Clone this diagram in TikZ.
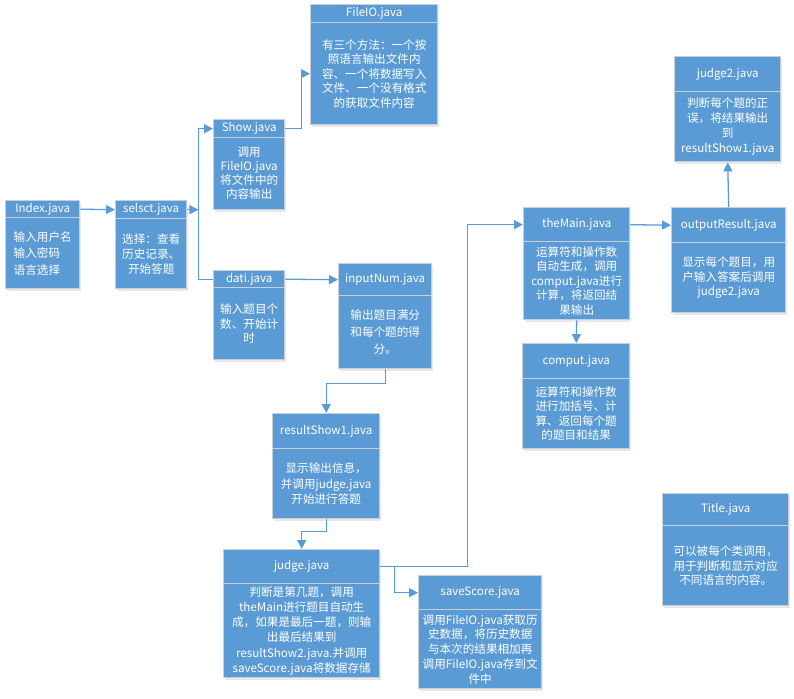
\documentclass[tikz,border=0pt]{standalone}
\usepackage{fontspec}
\setmainfont{Noto Sans CJK SC}
\usetikzlibrary{arrows.meta,shadows}

\definecolor{boxblue}{HTML}{5B9BD5}
\definecolor{boxedge}{HTML}{C9CFD8}
\definecolor{wireblue}{HTML}{5B9BD5}

\tikzset{
  classpart/.style={draw=boxedge, line width=1.4pt, fill=boxblue, text=white,
    anchor=north west, inner sep=0pt,
    drop shadow={opacity=0.18, shadow xshift=1.5pt, shadow yshift=-2pt}},
  headpart/.style={classpart, font=\fontsize{11.5}{14}\selectfont},
  bodypart/.style={classpart, align=center, font=\fontsize{11.6}{15}\selectfont},
  wire/.style={draw=wireblue, line width=1.3pt},
  arrowwire/.style={wire, -{Triangle[length=9pt,width=9pt]}},
}

% #1 name, #2 body options, #3 left, #4 top, #5 right, #6 divider, #7 bottom, #8 title, #9 body text
\newcommand{\classbox}[9]{%
  \node[headpart, minimum width={(#5-#3)*1pt}, minimum height={(#6-#4)*1pt}]
    (#1) at (#3,#4) {#8};
  \node[bodypart, #2, minimum width={(#5-#3)*1pt}, minimum height={(#7-#6)*1pt}]
    (#1b) at (#3,#6) {#9};
}

\begin{document}
\begin{tikzpicture}[x=1pt,y=-1pt]
\useasboundingbox[fill=white] (0,0) rectangle (794,698);

\classbox{idx}{align=left, font=\fontsize{11.6}{16.5}\selectfont}{5}{200}{79}{217}{288}{Index.java}{输入用户名\\输入密码\\语言选择}
\classbox{sel}{}{115}{200}{186}{218}{288}{selsct.java}{选择：查看\\历史记录、\\开始答题}
\classbox{show}{font=\fontsize{11.6}{14}\selectfont}{213}{119}{284}{137}{209}{Show.java}{调用\\FileIO.java\\将文件中的\\内容输出}
\classbox{fio}{font=\fontsize{11.6}{14.5}\selectfont}{310}{4}{437}{22}{124}{FileIO.java}{有三个方法：一个按\\照语言输出文件内\\容、一个将数据写入\\文件、一个没有格式\\的获取文件内容}
\classbox{dati}{font=\fontsize{11.6}{14.5}\selectfont}{213}{270}{284}{287}{359}{dati.java}{输入题目个\\数、开始计\\时}
\classbox{inp}{font=\fontsize{11.6}{17}\selectfont}{338}{263}{431}{295}{368}{inputNum.java}{输出题目满分\\和每个题的得\\分。}
\classbox{rsa}{font=\fontsize{11.6}{15.5}\selectfont}{272}{413}{379}{448}{518}{resultShow1.java}{显示输出信息，\\并调用judge.java\\开始进行答题}
\classbox{jdg}{font=\fontsize{11.6}{15.2}\selectfont}{223}{549}{379}{583}{677}{judge.java}{判断是第几题，调用\\theMain进行题目自动生\\成，如果是最后一题，则输\\出最后结果到\\resultShow2.java.并调用\\saveScore.java将数据存储}
\classbox{ss}{font=\fontsize{11.6}{14.8}\selectfont}{418}{575}{541}{609}{688}{saveScore.java}{调用FileIO.java获取历\\史数据，将历史数据\\与本次的结果相加再\\调用FileIO.java存到文\\件中}
\classbox{tm}{font=\fontsize{11.6}{14.5}\selectfont}{523}{207}{629}{241}{319}{theMain.java}{运算符和操作数\\自动生成，调用\\comput.java进行\\计算，将返回结\\果输出}
\classbox{cmp}{font=\fontsize{11.6}{14.5}\selectfont}{522}{343}{629}{378}{448}{comput.java}{运算符和操作数\\进行加括号、计\\算、返回每个题\\的题目和结果}
\classbox{outr}{font=\fontsize{11.6}{14.5}\selectfont}{671}{207}{785}{242}{312}{outputResult.java}{显示每个题目，用\\户输入答案后调用\\judge2.java}
\classbox{jtwo}{}{674}{56}{780}{91}{161}{judge2.java}{判断每个题的正\\误，将结果输出\\到\\resultShow1.java}
\classbox{ttl}{font=\fontsize{11.6}{14.5}\selectfont}{662}{493}{788}{525}{605}{Title.java}{可以被每个类调用，\\用于判断和显示对应\\不同语言的内容。}

% connectors
\draw[arrowwire] (idx.east) -- (sel.west);
\draw[arrowwire] (sel.east) -- ++(11,0) coordinate (bus);
\draw[arrowwire] (bus |- show.west) -- (show.west);
\draw[wire] (bus |- show.west) -- (bus |- dati.west) -- (dati.west);
\draw[arrowwire] (show.east) -- ++(16,0) |- (fiob.west);
\draw[arrowwire] (dati.east) -- (inp.west);
\draw[arrowwire] (inpb.south) -- ++(0,14) -| (rsa.north);
\draw[arrowwire] (rsab.south) -- ++(0,12) -| (jdg.north);
\draw[arrowwire] (jdg.east) -- ++(87,0) |- (tm.west);
\draw[arrowwire] (jdg.east) ++(14,0) |- (ss.west);
\draw[arrowwire] (tm.east) -- (outr.west);
\draw[arrowwire] (tmb.south) -- (cmp.north);
\draw[arrowwire] (outr.north) -- (jtwob.south);
\end{tikzpicture}
\end{document}
